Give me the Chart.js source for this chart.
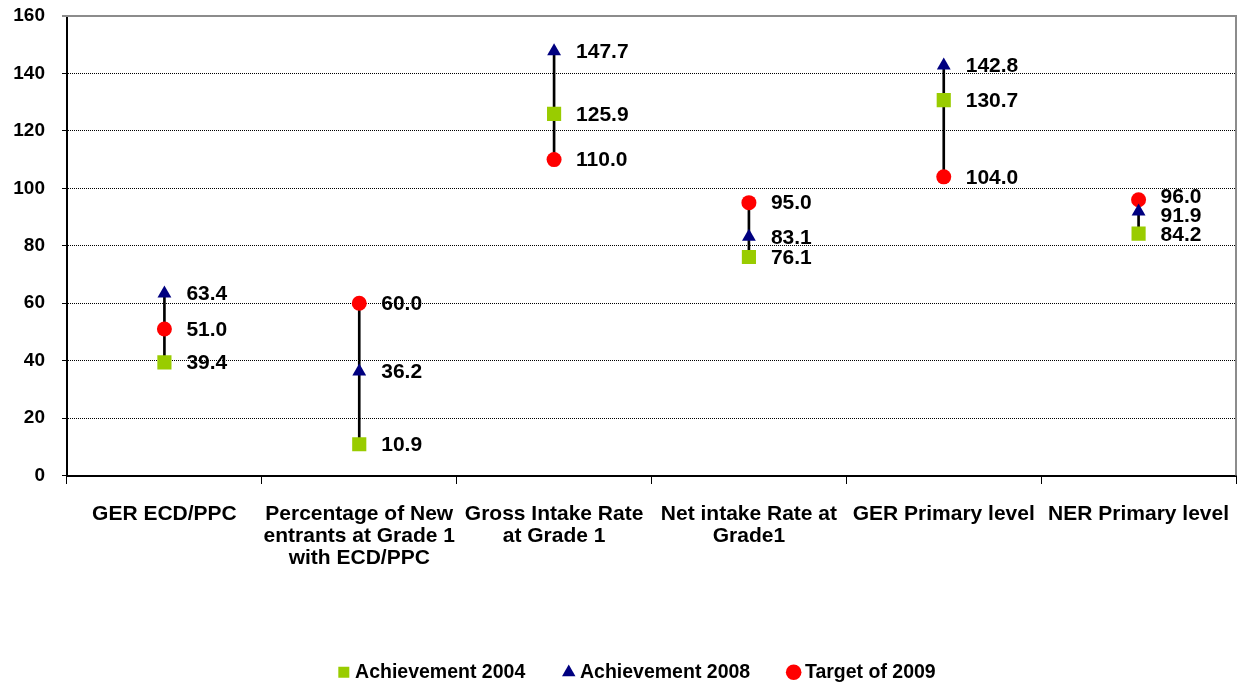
<!DOCTYPE html>
<html>
<head>
<meta charset="utf-8">
<title>Education indicators</title>
<script src="https://cdn.jsdelivr.net/npm/chart.js@4.4.1/dist/chart.umd.min.js"></script>
<style>
    html, body { margin: 0; padding: 0; background: #fff; }
    #wrap { width: 1243px; height: 685px; position: relative; }
</style>
</head>
<body>
<div id="wrap"><canvas id="chart"></canvas></div>
<script>
const categories = [
    'GER ECD/PPC',
    ['Percentage of New', 'entrants at Grade 1', 'with ECD/PPC'],
    ['Gross Intake Rate', 'at Grade 1'],
    ['Net intake Rate at', 'Grade1'],
    'GER Primary level',
    'NER Primary level'
];
const achievement2004 = [39.4, 10.9, 125.9, 76.1, 130.7, 84.2];
const achievement2008 = [63.4, 36.2, 147.7, 83.1, 142.8, 91.9];
const target2009 = [51.0, 60.0, 110.0, 95.0, 104.0, 96.0];
const yMin = 0;
const yMax = 160;
const yStep = 20;

const FONT = "'Liberation Sans', Arial, sans-serif";

// vertical high-low line per category, from the lowest to the highest value
const highLow = categories.map((c, i) => {
    const vals = [achievement2004[i], achievement2008[i], target2009[i]];
    return [Math.min(...vals), Math.max(...vals)];
});

// gray frame on top and right of the plot area
const frame = {
    id: 'frame',
    beforeDatasetsDraw(chart) {
        const { ctx, chartArea: a } = chart;
        ctx.save();
        ctx.strokeStyle = '#8c8c8c';
        ctx.lineWidth = 2;
        ctx.beginPath();
        ctx.moveTo(a.left - 5, a.top);
        ctx.lineTo(a.right, a.top);
        ctx.lineTo(a.right, a.bottom);
        ctx.stroke();
        ctx.restore();
    }
};

// legend sits a little lower and right of where the default box would put it
const legendDrop = {
    id: 'legendDrop',
    afterLayout(chart) {
        const lg = chart.legend;
        if (!lg) return;
        lg.top += 7;
        lg.bottom += 7;
        lg.left += 21;
        lg.right += 21;
    }
};

// value labels to the right of each marker, pushed apart when they collide
const valueLabels = {
    id: 'valueLabels',
    afterDatasetsDraw(chart) {
        const ctx = chart.ctx;
        const minGap = 19;
        ctx.save();
        ctx.font = 'bold 21px ' + FONT;
        ctx.fillStyle = '#000';
        ctx.textAlign = 'left';
        ctx.textBaseline = 'middle';
        categories.forEach((c, i) => {
            const items = [];
            chart.data.datasets.forEach((ds, di) => {
                if (ds.type !== 'line') return;
                const pt = chart.getDatasetMeta(di).data[i];
                items.push({ x: pt.x, y: pt.y, text: ds.data[i].toFixed(1) });
            });
            items.sort((a, b) => a.y - b.y);
            for (let k = 1; k < items.length; k++) {
                const d = items[k].y - items[k - 1].y;
                if (d < minGap) {
                    const shift = (minGap - d) / 2;
                    items[k - 1].y -= shift;
                    items[k].y += shift;
                }
            }
            items.forEach(it => ctx.fillText(it.text, it.x + 22, it.y + 1));
        });
        ctx.restore();
    }
};

const ctx = document.getElementById('chart').getContext('2d');
new Chart(ctx, {
    type: 'bar',
    data: {
        labels: categories,
        datasets: [
            {
                type: 'line',
                label: 'Achievement 2004',
                data: achievement2004,
                showLine: false,
                pointStyle: 'rect',
                pointRadius: 10,
                pointHoverRadius: 10,
                backgroundColor: '#99cc00',
                borderColor: '#99cc00',
                borderWidth: 0,
                order: 1
            },
            {
                type: 'line',
                label: 'Achievement 2008',
                data: achievement2008,
                showLine: false,
                pointStyle: 'triangle',
                pointRadius: 8,
                pointHoverRadius: 8,
                backgroundColor: '#000080',
                borderColor: '#000080',
                borderWidth: 0,
                order: 2
            },
            {
                type: 'line',
                label: 'Target of 2009',
                data: target2009,
                showLine: false,
                pointStyle: 'circle',
                pointRadius: 7.5,
                pointHoverRadius: 7.5,
                backgroundColor: '#ff0000',
                borderColor: '#ff0000',
                borderWidth: 0,
                order: 3
            },
            {
                type: 'bar',
                label: 'range',
                data: highLow,
                backgroundColor: '#000',
                borderWidth: 0,
                barThickness: 2,
                order: 10
            }
        ]
    },
    options: {
        responsive: true,
        maintainAspectRatio: false,
        animation: false,
        layout: { autoPadding: false, padding: { top: 16, right: 7, left: 0, bottom: 0 } },
        plugins: {
            tooltip: { enabled: false },
            legend: {
                position: 'bottom',
                labels: {
                    filter: item => item.text !== 'range',
                    usePointStyle: true,
                    boxWidth: 3,
                    boxHeight: 11,
                    padding: 42,
                    color: '#000',
                    font: { family: FONT, size: 19.5, weight: 'bold' }
                }
            }
        },
        scales: {
            x: {
                grid: {
                    offset: true,
                    drawOnChartArea: false,
                    tickLength: 22,
                    tickBorderDash: [7, 15],
                    color: '#000',
                    tickColor: '#000'
                },
                border: { color: '#000', width: 2 },
                ticks: {
                    color: '#000',
                    padding: 6,
                    maxRotation: 0,
                    minRotation: 0,
                    autoSkip: false,
                    font: { family: FONT, size: 21, weight: 'bold', lineHeight: 1.05 }
                },
                afterFit(scale) { scale.height = 138; }
            },
            y: {
                min: yMin,
                max: yMax,
                ticks: {
                    stepSize: yStep,
                    color: '#000',
                    padding: 0,
                    font: { family: FONT, size: 19, weight: 'bold' }
                },
                grid: {
                    color: c => (c.tick && (c.tick.value === yMax || c.tick.value === yMin)) ? 'rgba(0,0,0,0)' : '#000',
                    tickColor: '#000',
                    tickLength: 22,
                    tickBorderDash: [0, 17, 5, 0],
                    lineWidth: 1
                },
                border: { color: '#000', width: 2, dash: [1, 1] },
                afterFit(scale) { scale.width = 67; }
            }
        }
    },
    plugins: [frame, legendDrop, valueLabels]
});
</script>
</body>
</html>
